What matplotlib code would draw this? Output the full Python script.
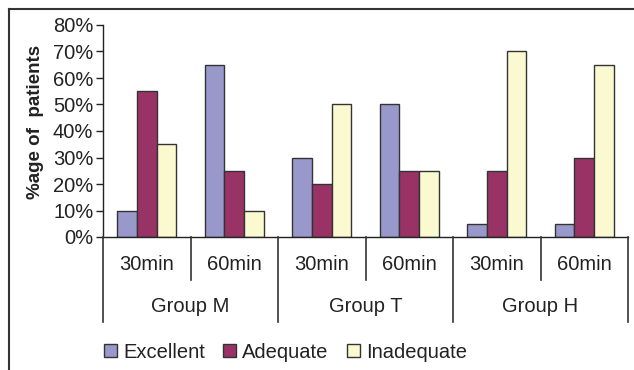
import matplotlib.pyplot as plt
import matplotlib.transforms as mtransforms
from matplotlib.lines import Line2D
from matplotlib.patches import Patch
import numpy as np

plt.rcParams['font.family'] = ['Liberation Sans', 'DejaVu Sans']

times = ['30min', '60min', '30min', '60min', '30min', '60min']
groups = ['Group M', 'Group T', 'Group H']
excellent = [10, 65, 30, 50, 5, 5]
adequate = [55, 25, 20, 25, 25, 30]
inadequate = [35, 10, 50, 25, 70, 65]
series = ['Excellent', 'Adequate', 'Inadequate']
colors = ['#9898CA', '#993366', '#FBF9D0']
text_col = '#222222'

W, H = 634, 370
fig = plt.figure(figsize=(W / 100, H / 100), dpi=100)
ax = fig.add_axes([103 / W, 1 - 237 / H, (628 - 103) / W, (237 - 25) / H])


def fy(py):
    # pixel row from the top -> figure fraction
    return 1 - py / H


x = np.arange(len(times))
bw = 0.225
for k, vals in enumerate([excellent, adequate, inadequate]):
    ax.bar(x + (k - 1) * bw, vals, bw, color=colors[k], edgecolor='#333333',
           linewidth=1, label=series[k], zorder=2)

ax.set_xlim(-0.5, len(times) - 0.5)
ax.set_ylim(0, 80)
ax.set_yticks(range(0, 81, 10))
ax.set_yticklabels([f'{v}%' for v in range(0, 81, 10)], fontsize=14.5, color=text_col)
ax.tick_params(axis='y', length=5, width=1, pad=2, color='#222222')
ax.set_xticks([])
for s in ['top', 'right']:
    ax.spines[s].set_visible(False)
for s in ['left', 'bottom']:
    ax.spines[s].set_color('#222222')
    ax.spines[s].set_linewidth(1)

ax.set_ylabel('%age of  patients', fontsize=13.5, fontweight='bold', color=text_col)
ax.yaxis.set_label_coords((44 - 103) / (628 - 103), (237 - 122) / (237 - 25))

# category axis: divider lines and two rows of labels
blend = mtransforms.blended_transform_factory(ax.transData, fig.transFigure)
for i in range(len(times) + 1):
    xb = i - 0.5
    bottom = 322 if i % 2 == 0 else 280
    fig.add_artist(Line2D([xb, xb], [fy(237), fy(bottom)], transform=blend,
                          color='#333333', lw=1.2))

for i, t in enumerate(times):
    fig.text(i, fy(265), t, transform=blend, ha='center', va='center',
             fontsize=14.5, color=text_col)
for j, g in enumerate(groups):
    fig.text(2 * j + 0.5, fy(307), g, transform=blend, ha='center', va='center',
             fontsize=14.5, color=text_col)

handles = [Patch(facecolor=c, edgecolor='#333333', linewidth=1) for c in colors]
fig.legend(handles, series, loc='center left', bbox_to_anchor=(104 / W, fy(352)),
           ncol=3, frameon=False, fontsize=14.5, handlelength=0.65, handleheight=0.65,
           handletextpad=0.3, columnspacing=0.9, borderaxespad=0, borderpad=0,
           labelcolor=text_col)

# outer frame on top and left
fig.add_artist(Line2D([9 / W, 633 / W], [fy(9), fy(9)], color='#333333', lw=1.5))
fig.add_artist(Line2D([9 / W, 9 / W], [fy(9), 0], color='#333333', lw=1.5))

fig.savefig('out.png', dpi=100)
